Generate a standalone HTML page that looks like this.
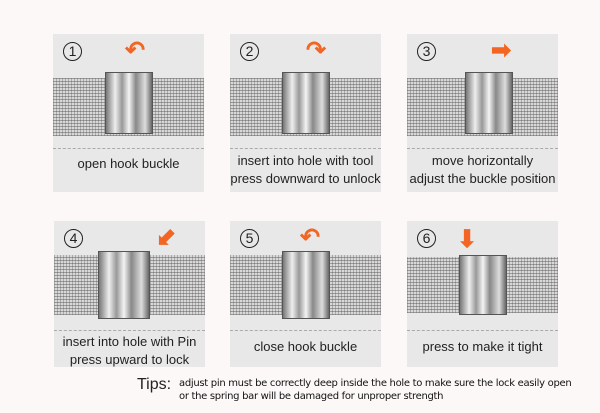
<!DOCTYPE html>
<html><head><meta charset="utf-8"><style>
body{margin:0;width:600px;height:413px;background:#fdf8f8;position:relative;overflow:hidden;font-family:"Liberation Sans",sans-serif}
.p{position:absolute;width:151px;background:#e8e8e8}
.r1{top:34px;height:158px}.r2{top:221px;height:146px}
.num{position:absolute;left:10px;top:8px;width:17px;height:17px;border:1.5px solid #222;border-radius:50%;font-size:14px;line-height:17px;text-align:center;color:#222}
.mesh{position:absolute;left:0;right:0;background:repeating-linear-gradient(0deg,#9a9a9a 0 1px,#d8d8d8 1px 3px),#b5b5b5}
.mesh:after{content:"";position:absolute;inset:0;background:repeating-linear-gradient(90deg,rgba(100,100,100,.4) 0 1px,transparent 1px 3px)}
.bk{position:absolute;background:linear-gradient(90deg,#777,#eee 20%,#999 35%,#f4f4f4 50%,#888 65%,#ddd 85%,#666);border:1px solid #555}
.dash{position:absolute;left:0;right:0;border-top:1px dashed #aaa}
.t{position:absolute;left:0;right:0;text-align:center;font-size:13px;color:#222;line-height:18px}
.ar{position:absolute;color:#f26522;font-size:24px;font-weight:bold}
</style></head><body>

<div class="p r1" style="left:53px"><div class="num">1</div>
<div class="mesh" style="top:44px;height:58px"></div><div class="bk" style="left:52px;top:38px;width:46px;height:60px"></div>
<div class="ar" style="left:72px;top:2px">↶</div>
<div class="dash" style="top:114px"></div><div class="t" style="top:121px">open hook buckle</div></div>

<div class="p r1" style="left:230px"><div class="num">2</div>
<div class="mesh" style="top:44px;height:58px"></div><div class="bk" style="left:52px;top:38px;width:46px;height:60px"></div>
<div class="ar" style="left:76px;top:2px">↷</div>
<div class="dash" style="top:114px"></div><div class="t" style="top:118px">insert into hole with tool<br>press downward to unlock</div></div>

<div class="p r1" style="left:407px"><div class="num">3</div>
<div class="mesh" style="top:44px;height:58px"></div><div class="bk" style="left:58px;top:38px;width:46px;height:60px"></div>
<div class="ar" style="left:84px;top:2px">➡</div>
<div class="dash" style="top:114px"></div><div class="t" style="top:118px">move horizontally<br>adjust the buckle position</div></div>

<div class="p r2" style="left:54px"><div class="num">4</div>
<div class="mesh" style="top:34px;height:60px"></div><div class="bk" style="left:44px;top:30px;width:50px;height:66px"></div>
<div class="ar" style="left:102px;top:2px">⬋</div>
<div class="dash" style="top:109px"></div><div class="t" style="top:112px">insert into hole with Pin<br>press upward to lock</div></div>

<div class="p r2" style="left:230px"><div class="num">5</div>
<div class="mesh" style="top:34px;height:60px"></div><div class="bk" style="left:52px;top:30px;width:46px;height:66px"></div>
<div class="ar" style="left:70px;top:2px">↶</div>
<div class="dash" style="top:109px"></div><div class="t" style="top:117px">close hook buckle</div></div>

<div class="p r2" style="left:407px"><div class="num">6</div>
<div class="mesh" style="top:36px;height:56px"></div><div class="bk" style="left:52px;top:34px;width:46px;height:58px"></div>
<div class="ar" style="left:50px;top:4px">⬇</div>
<div class="dash" style="top:109px"></div><div class="t" style="top:117px">press to make it tight</div></div>

<div style="position:absolute;left:137px;top:376px;font-size:16px;color:#222">Tips:</div>
<div style="position:absolute;left:179px;top:377px;font-size:10px;line-height:13px;color:#111;font-family:'DejaVu Sans',sans-serif;letter-spacing:-.3px">adjust pin must be correctly deep inside the hole to make sure the lock easily open<br>or the spring bar will be damaged for unproper strength</div>
</body></html>
